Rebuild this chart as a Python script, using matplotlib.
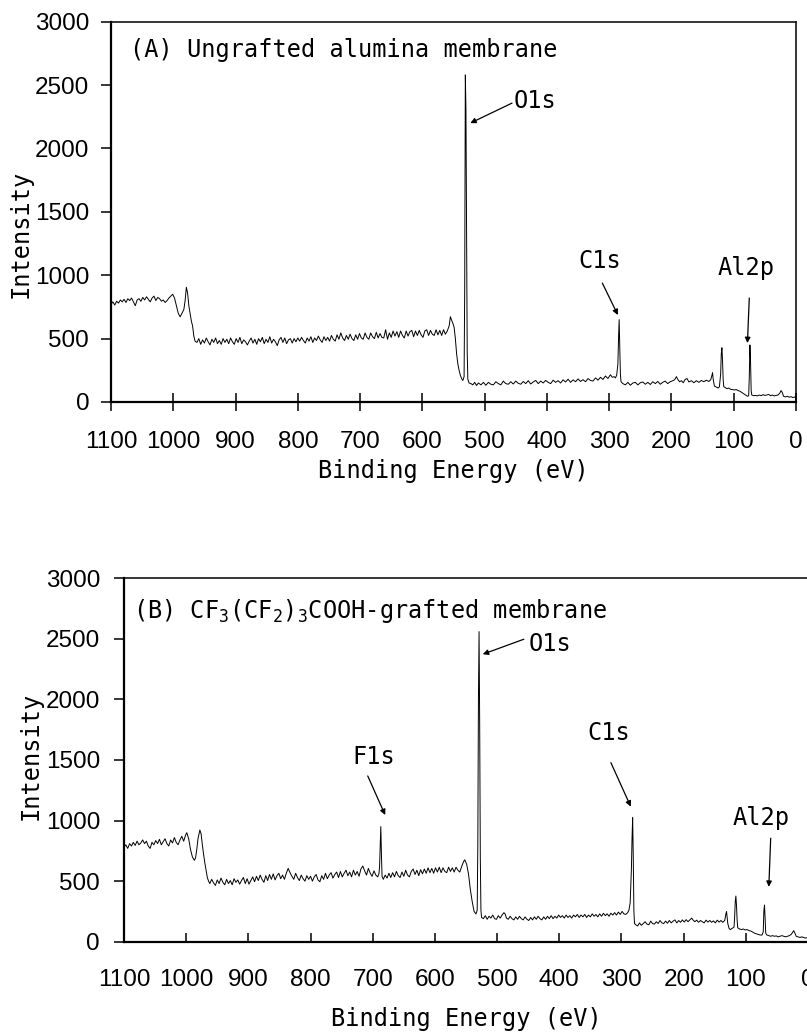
import numpy as np
import matplotlib
matplotlib.use("Agg")
import matplotlib.pyplot as plt

# ---------------------------------------------------------------- data
# (A) ungrafted alumina membrane: binding energy (eV), intensity (counts)
spec_a = [
    (1100, 770), (1097, 790), (1094, 765), (1091, 795), (1088, 780), (1085, 805),
    (1082, 790), (1079, 810), (1076, 785), (1073, 815), (1070, 800), (1067, 820),
    (1064, 790), (1061, 760), (1058, 805), (1055, 815), (1052, 795), (1049, 825),
    (1046, 805), (1043, 830), (1040, 810), (1037, 790), (1034, 820), (1031, 835),
    (1028, 800), (1025, 825), (1022, 815), (1019, 795), (1016, 805), (1013, 785),
    (1010, 800), (1007, 820), (1004, 835), (1001, 850), (998, 820), (995, 760),
    (992, 700), (989, 672), (986, 700), (983, 730), (981, 800), (979, 905),
    (977, 860), (975, 760), (973, 700), (971, 640), (969, 600), (967, 520),
    (965, 480), (962, 470), (959, 500), (956, 455), (953, 490), (950, 465),
    (947, 505), (944, 475), (941, 450), (938, 495), (935, 470), (932, 505),
    (929, 460), (926, 485), (923, 455), (920, 500), (917, 470), (914, 495),
    (911, 460), (908, 505), (905, 475), (902, 455), (899, 500), (896, 470),
    (893, 510), (890, 460), (887, 490), (884, 475), (881, 450), (878, 480),
    (875, 505), (872, 465), (869, 495), (866, 455), (863, 500), (860, 475),
    (857, 510), (854, 460), (851, 495), (848, 470), (845, 515), (842, 465),
    (839, 495), (836, 475), (833, 445), (830, 490), (827, 510), (824, 470),
    (821, 505), (818, 460), (815, 490), (812, 500), (809, 465), (806, 500),
    (803, 475), (800, 505), (797, 480), (794, 510), (791, 485), (788, 465),
    (785, 505), (782, 480), (779, 515), (776, 470), (773, 505), (770, 485),
    (767, 520), (764, 490), (761, 470), (758, 515), (755, 485), (752, 510),
    (749, 480), (746, 525), (743, 495), (740, 480), (737, 530), (734, 495),
    (731, 545), (728, 505), (725, 485), (722, 525), (719, 495), (716, 535),
    (713, 500), (710, 485), (707, 530), (704, 495), (701, 540), (698, 505),
    (695, 495), (692, 545), (689, 510), (686, 495), (683, 545), (680, 515),
    (677, 500), (674, 550), (671, 505), (668, 540), (665, 510), (662, 505),
    (659, 570), (656, 495), (653, 545), (650, 510), (647, 560), (644, 520),
    (641, 555), (638, 510), (635, 560), (632, 525), (629, 505), (626, 560),
    (623, 520), (620, 555), (617, 565), (614, 515), (611, 560), (608, 525),
    (605, 565), (602, 530), (599, 510), (596, 560), (593, 570), (590, 525),
    (587, 565), (584, 535), (581, 525), (578, 570), (575, 530), (572, 565),
    (569, 525), (566, 570), (563, 535), (560, 560), (557, 600), (555, 673),
    (553, 645), (551, 620), (549, 590), (547, 500), (545, 380), (543, 300),
    (541, 250), (539, 210), (537, 185), (535, 170), (533, 200), (532, 900),
    (531, 2580), (530, 2300), (529, 1300), (528, 400), (527, 180), (525, 150),
    (522, 145), (519, 135), (516, 155), (513, 130), (510, 150), (506, 135),
    (502, 155), (498, 132), (494, 155), (490, 140), (486, 135), (482, 160),
    (478, 145), (474, 135), (470, 165), (466, 145), (462, 140), (458, 160),
    (454, 142), (450, 165), (446, 148), (442, 140), (438, 162), (434, 145),
    (430, 168), (426, 142), (422, 158), (418, 170), (414, 145), (410, 165),
    (406, 150), (402, 170), (398, 155), (394, 145), (390, 172), (386, 155),
    (382, 168), (378, 150), (374, 175), (370, 158), (366, 180), (362, 155),
    (358, 175), (354, 160), (350, 182), (346, 162), (342, 176), (338, 160),
    (334, 185), (330, 170), (326, 165), (322, 190), (318, 172), (314, 195),
    (310, 178), (306, 205), (302, 185), (298, 215), (295, 195), (292, 200),
    (290, 190), (288, 210), (286, 300), (285, 500), (284, 650), (283, 450),
    (282, 220), (281, 160), (279, 150), (278, 145), (274, 135), (270, 155),
    (266, 132), (262, 150), (258, 155), (254, 135), (250, 152), (246, 158),
    (242, 140), (238, 155), (234, 138), (230, 160), (226, 145), (222, 162),
    (218, 140), (214, 155), (210, 165), (206, 145), (202, 160), (198, 168),
    (195, 175), (192, 200), (190, 180), (187, 160), (184, 168), (181, 152),
    (178, 178), (175, 185), (172, 158), (168, 168), (164, 152), (160, 168),
    (156, 155), (152, 170), (148, 160), (144, 172), (140, 162), (137, 175),
    (135, 210), (134, 231), (133, 180), (131, 125), (128, 118), (125, 110),
    (123, 120), (121, 220), (120, 380), (119, 428), (118, 330), (117, 180),
    (116, 120), (114, 115), (111, 105), (108, 110), (105, 100), (102, 98),
    (99, 95), (96, 98), (93, 90), (90, 85), (87, 75), (84, 65), (81, 55),
    (78, 45), (76, 50), (75, 200), (74, 450), (73, 320), (72, 90), (71, 55),
    (68, 50), (65, 52), (62, 48), (59, 55), (56, 50), (53, 58), (50, 52),
    (47, 55), (44, 60), (41, 50), (38, 55), (35, 48), (32, 52), (29, 55),
    (26, 70), (24, 90), (22, 75), (20, 45), (17, 40), (14, 45), (11, 38),
    (8, 42), (5, 35), (2, 40), (0, 30),
]

# (B) CF3(CF2)3COOH-grafted membrane: binding energy (eV), intensity (counts)
spec_b = [
    (1100, 780), (1097, 800), (1094, 770), (1091, 810), (1088, 790), (1085, 820),
    (1082, 795), (1079, 830), (1076, 800), (1073, 815), (1070, 840), (1067, 810),
    (1064, 830), (1061, 790), (1058, 770), (1055, 820), (1052, 800), (1049, 835),
    (1046, 810), (1043, 845), (1040, 800), (1037, 825), (1034, 850), (1031, 810),
    (1028, 790), (1025, 840), (1022, 815), (1019, 860), (1016, 820), (1013, 800),
    (1010, 840), (1007, 870), (1004, 830), (1001, 880), (999, 900), (996, 850),
    (993, 760), (990, 700), (987, 672), (985, 690), (983, 760), (981, 850),
    (978, 922), (976, 890), (974, 800), (972, 720), (970, 650), (968, 590),
    (966, 530), (964, 500), (962, 480), (959, 515), (956, 485), (953, 465),
    (950, 510), (947, 480), (944, 525), (941, 490), (938, 470), (935, 515),
    (932, 480), (929, 505), (926, 470), (923, 520), (920, 490), (917, 510),
    (914, 475), (911, 505), (908, 530), (905, 480), (902, 520), (899, 475),
    (896, 505), (893, 535), (890, 495), (887, 540), (884, 505), (881, 550),
    (878, 515), (875, 490), (872, 545), (869, 505), (866, 555), (863, 515),
    (860, 560), (857, 510), (854, 545), (851, 565), (848, 520), (845, 550),
    (842, 515), (839, 565), (836, 605), (833, 570), (830, 540), (827, 515),
    (824, 565), (821, 530), (818, 505), (815, 550), (812, 520), (809, 500),
    (806, 545), (803, 515), (800, 540), (797, 500), (794, 535), (791, 555),
    (788, 510), (785, 495), (782, 545), (779, 515), (776, 565), (773, 520),
    (770, 550), (767, 570), (764, 525), (761, 555), (758, 575), (755, 530),
    (752, 580), (749, 535), (746, 565), (743, 590), (740, 545), (737, 575),
    (734, 535), (731, 590), (728, 550), (725, 580), (722, 540), (719, 600),
    (716, 625), (713, 585), (710, 550), (707, 605), (704, 565), (701, 540),
    (698, 585), (695, 550), (692, 535), (690, 560), (689, 620), (688, 800),
    (687, 950), (686, 720), (685, 540), (683, 515), (680, 550), (677, 525),
    (674, 565), (671, 530), (668, 570), (665, 535), (662, 580), (659, 545),
    (656, 530), (653, 575), (650, 540), (647, 590), (644, 550), (641, 535),
    (638, 580), (635, 600), (632, 555), (629, 590), (626, 545), (623, 595),
    (620, 560), (617, 600), (614, 565), (611, 610), (608, 570), (605, 605),
    (602, 565), (599, 610), (596, 575), (593, 615), (590, 570), (587, 610),
    (584, 580), (581, 570), (578, 615), (575, 580), (572, 610), (569, 575),
    (566, 615), (563, 590), (560, 575), (557, 620), (554, 660), (552, 676),
    (549, 640), (546, 560), (543, 430), (540, 330), (537, 250), (534, 229),
    (532, 260), (531, 800), (530, 2000), (529, 2560), (528, 1800), (527, 700),
    (526, 260), (525, 200), (522, 190), (519, 215), (516, 185), (513, 210),
    (510, 195), (507, 220), (504, 190), (501, 185), (498, 215), (495, 195),
    (492, 220), (489, 240), (487, 228), (485, 195), (482, 185), (479, 210),
    (476, 190), (473, 180), (470, 205), (467, 185), (464, 210), (461, 190),
    (458, 180), (455, 205), (452, 185), (449, 175), (446, 200), (443, 180),
    (440, 205), (437, 185), (434, 210), (431, 190), (428, 180), (425, 205),
    (422, 185), (419, 210), (416, 190), (413, 215), (410, 190), (407, 210),
    (404, 195), (401, 220), (398, 200), (395, 215), (392, 195), (389, 220),
    (386, 200), (383, 215), (380, 195), (377, 220), (374, 205), (371, 225),
    (368, 200), (365, 220), (362, 205), (359, 225), (356, 200), (353, 220),
    (350, 205), (347, 230), (344, 210), (341, 225), (338, 205), (335, 230),
    (332, 210), (329, 235), (326, 215), (323, 230), (320, 210), (317, 235),
    (314, 220), (311, 240), (308, 220), (305, 245), (302, 225), (299, 250),
    (296, 230), (293, 225), (290, 240), (288, 260), (286, 320), (285, 450),
    (284, 600), (283, 850), (282, 1024), (281, 700), (280, 250), (279, 150),
    (277, 140), (274, 130), (271, 155), (268, 135), (265, 150), (262, 165),
    (259, 145), (256, 140), (253, 170), (250, 150), (247, 145), (244, 165),
    (241, 150), (238, 175), (235, 155), (232, 150), (229, 170), (226, 152),
    (223, 175), (220, 155), (217, 170), (214, 180), (211, 155), (208, 175),
    (205, 160), (202, 180), (199, 162), (196, 182), (193, 165), (190, 180),
    (187, 195), (185, 180), (182, 165), (179, 178), (176, 160), (173, 175),
    (170, 165), (167, 155), (164, 178), (161, 162), (158, 175), (155, 160),
    (152, 172), (149, 155), (146, 178), (143, 162), (140, 175), (137, 160),
    (134, 175), (133, 200), (132, 230), (131, 248), (130, 200), (129, 150),
    (127, 110), (125, 100), (122, 110), (119, 120), (118, 200), (117, 330),
    (116, 377), (115, 300), (114, 180), (113, 115), (110, 105), (107, 100),
    (104, 105), (101, 97), (98, 100), (95, 92), (92, 88), (89, 80), (86, 70),
    (83, 65), (80, 60), (77, 55), (74, 55), (72, 80), (71, 250), (70, 303),
    (69, 200), (68, 70), (66, 55), (63, 50), (60, 45), (57, 50), (54, 45),
    (51, 48), (48, 40), (45, 45), (42, 50), (39, 45), (36, 40), (33, 45),
    (30, 50), (27, 60), (25, 75), (23, 91), (21, 70), (19, 45), (16, 40),
    (13, 35), (10, 40), (7, 35), (4, 30), (1, 35), (0, 30),
]

be_a, counts_a = map(np.array, zip(*spec_a))
be_b, counts_b = map(np.array, zip(*spec_b))

x_ticks = list(range(1100, -1, -100))
y_ticks = [0, 500, 1000, 1500, 2000, 2500, 3000]

# peak labels: (text, text x, text y, ha, arrow tail, arrow head)
labels_a = [
    ("O1s", 454, 2319, "left", (456, 2358), (523, 2200)),
    ("C1s", 315, 1057, "center", (311, 938), (286, 686)),
    ("Al2p", 80, 1002, "center", (75, 820), (78, 465)),
]
labels_b = [
    ("F1s", 699, 1467, "center", (708, 1368), (680, 1046)),
    ("O1s", 449, 2403, "left", (457, 2497), (523, 2373)),
    ("C1s", 320, 1666, "center", (317, 1478), (285, 1115)),
    ("Al2p", 76, 963, "center", (60, 854), (63, 453)),
]

title_a = "(A) Ungrafted alumina membrane"
title_b = "(B) CF$_3$(CF$_2$)$_3$COOH-grafted membrane"

# ---------------------------------------------------------------- style
plt.rcParams["mathtext.default"] = "regular"
MONO = "DejaVu Sans Mono"
NUM = "Liberation Sans"

W, H = 807, 1036
fig = plt.figure(figsize=(W / 100, H / 100), dpi=100)


def px_axes(left, right, top, bottom):
    return fig.add_axes([left / W, 1 - bottom / H, (right - left) / W, (bottom - top) / H])


def style_axes(ax, xdir, xlen, xpad, ypad):
    ax.set_xlim(1100, 0)
    ax.set_ylim(0, 3000)
    ax.set_xticks(x_ticks)
    ax.set_yticks(y_ticks)
    for s in ("left", "bottom"):
        ax.spines[s].set_linewidth(1.6)
    for s in ("top", "right"):
        ax.spines[s].set_linewidth(1.1)
    ax.tick_params(axis="x", direction=xdir, length=xlen, width=1.1, pad=xpad)
    ax.tick_params(axis="y", direction="out", length=7.2, width=1.1, pad=ypad)
    for lab in ax.get_xticklabels() + ax.get_yticklabels():
        lab.set_fontfamily(NUM)
        lab.set_fontsize(17.5)


def draw_labels(ax, labels):
    for text, tx, ty, ha, tail, head in labels:
        ax.text(tx, ty, text, ha=ha, va="baseline", fontsize=17, family=MONO)
        ax.annotate("", xy=head, xytext=tail,
                    arrowprops=dict(arrowstyle="-|>", color="black", lw=0.9,
                                    mutation_scale=8, shrinkA=0, shrinkB=0))


# ---------------------------------------------------------------- panel A
ax1 = px_axes(111, 796, 21.7, 402)
ax1.plot(be_a, counts_a, color="black", lw=0.7)
style_axes(ax1, "inout", 13, 14.5, 8.5)
ax1.text(1069, 2723, title_a, ha="left", va="baseline", fontsize=17, family=MONO)
draw_labels(ax1, labels_a)
fig.text(21 / W, 1 - 234 / H, "Intensity", rotation=90, ha="center", va="center",
         fontsize=17, family=MONO)
fig.text(453 / W, 1 - 471 / H, "Binding Energy (eV)", ha="center", va="center",
         fontsize=17, family=MONO)

# ---------------------------------------------------------------- panel B
ax2 = px_axes(124, 808, 578.3, 941.7)
ax2.plot(be_b, counts_b, color="black", lw=0.7)
style_axes(ax2, "in", 6.2, 20, 10)
ax2.text(1085, 2673, title_b, ha="left", va="baseline", fontsize=17, family=MONO)
draw_labels(ax2, labels_b)
fig.text(31 / W, 1 - 756 / H, "Intensity", rotation=90, ha="center", va="center",
         fontsize=17, family=MONO)
fig.text(466 / W, 1 - 1019 / H, "Binding Energy (eV)", ha="center", va="center",
         fontsize=17, family=MONO)

fig.savefig("out.png", dpi=100)
